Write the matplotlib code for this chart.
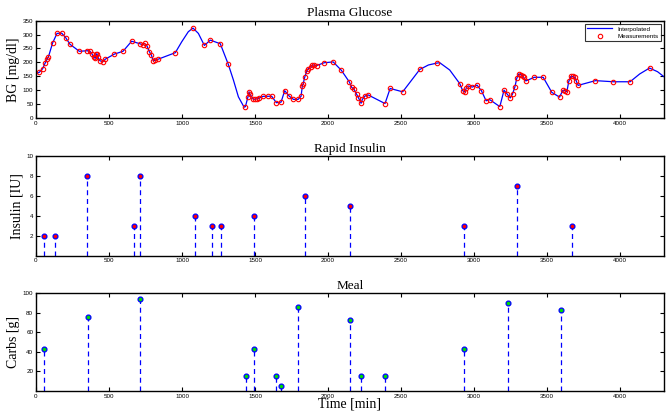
import numpy as np
import matplotlib
matplotlib.use("Agg")
import matplotlib.pyplot as plt

# glucose measurements [min], [mg/dl]
meas_t = [23, 46, 62, 75, 84, 114, 144, 176, 203, 233, 297, 352, 370, 384, 397, 406,
          413, 418, 422, 438, 459, 475, 537, 596, 655, 712, 731, 744, 760, 776, 790,
          804, 817, 833, 954, 1075, 1153, 1194, 1262, 1317, 1434, 1452, 1459, 1466,
          1489, 1502, 1516, 1530, 1557, 1587, 1614, 1646, 1678, 1703, 1735, 1763, 1795,
          1815, 1824, 1829, 1840, 1854, 1865, 1881, 1893, 1904, 1922, 1973, 2035, 2091,
          2146, 2162, 2178, 2196, 2208, 2226, 2235, 2253, 2274, 2390, 2425, 2511, 2628,
          2747, 2902, 2922, 2938, 2947, 2959, 2988, 3020, 3050, 3082, 3107, 3176, 3205,
          3228, 3247, 3263, 3279, 3292, 3306, 3320, 3333, 3340, 3354, 3413, 3473, 3532,
          3585, 3607, 3621, 3635, 3648, 3662, 3676, 3689, 3699, 3712, 3831, 3954, 4068,
          4201]
meas_bg = [165, 178, 197, 211, 218, 270, 304, 305, 289, 265, 240, 242, 240, 230, 218, 215,
           230, 231, 221, 206, 203, 212, 230, 240, 276, 267, 263, 268, 259, 239, 227,
           205, 209, 211, 235, 323, 261, 280, 267, 193, 42, 78, 95, 86,
           68, 69, 70, 73, 79, 79, 79, 56, 58, 99, 79, 68, 68,
           79, 116, 122, 147, 169, 178, 185, 190, 191, 189, 199, 202, 172,
           130, 111, 104, 86, 74, 54, 68, 80, 84, 53, 107, 95, 175,
           198, 124, 99, 94, 110, 116, 112, 119, 99, 63, 67, 42, 101,
           86, 73, 87, 112, 143, 159, 156, 152, 147, 134, 147, 147, 93,
           76, 100, 99, 95, 132, 150, 150, 147, 134, 118, 135, 131, 131,
           180]

# extra points
curve_extra_t = [0, 998, 1043, 1112, 1352, 1386, 1425, 2687, 2765, 2833, 4134, 4256, 4300]
curve_extra_bg = [160, 274, 310, 304, 137, 77, 40, 191, 199, 173, 159, 167, 149]

# rapid insulin boluses [min], [IU]
ins_t = [53, 130, 349, 669, 715, 1091, 1205, 1265, 1495, 1840, 2151, 2934, 3292, 3668]
ins_u = [2, 2, 8, 3, 8, 4, 3, 3, 4, 6, 5, 3, 7, 3]

# meals [min], [g]
meal_t = [53, 354, 715, 1436, 1495, 1646, 1678, 1797, 2151, 2226, 2393, 2934, 3233, 3594]
meal_g = [42.5, 76, 94, 15, 42.5, 15, 5, 86, 73, 15, 15, 42.5, 90, 83]

curve_t = np.concatenate([meas_t, curve_extra_t])
curve_bg = np.concatenate([meas_bg, curve_extra_bg])
order = np.argsort(curve_t)
curve_t, curve_bg = curve_t[order], curve_bg[order]

serif = ["Liberation Serif", "DejaVu Serif"]
plt.rcParams["font.family"] = ["Liberation Sans", "DejaVu Sans"]

fig = plt.figure(figsize=(6.7, 4.11), dpi=100)
ax1 = fig.add_axes([0.0537, 0.712, 0.9373, 0.238])
ax2 = fig.add_axes([0.0537, 0.378, 0.9373, 0.242])
ax3 = fig.add_axes([0.0537, 0.049, 0.9373, 0.237])


def style(ax, title, ylabel):
    ax.set_xlim(0, 4300)
    ax.set_xticks(np.arange(0, 4001, 500))
    ax.tick_params(direction="in", top=True, right=True, labelsize=4.5, length=3, width=0.8, pad=2)
    for s in ax.spines.values():
        s.set_linewidth(1.0)
    ax.set_title(title, family=serif, fontsize=9.5, pad=3)
    ax.set_ylabel(ylabel, family=serif, fontsize=10, labelpad=2)


ax1.plot(curve_t, curve_bg, color="blue", lw=0.9, label="Interpolated")
ax1.plot(meas_t, meas_bg, "o", mfc="none", mec="red", ms=3.2, mew=0.8, label="Measurements")
style(ax1, "Plasma Glucose", "BG [mg/dl]")
ax1.set_ylim(0, 350)
ax1.set_yticks(np.arange(0, 351, 50))
leg = ax1.legend(loc="upper right", fontsize=4.5, frameon=True, fancybox=False,
                 borderpad=0.4, handlelength=4, labelspacing=0.3, borderaxespad=0.5)
leg.get_frame().set_edgecolor("black")
leg.get_frame().set_linewidth(0.8)

ax2.vlines(ins_t, 0, ins_u, colors="blue", linestyles=(0, (4, 3)), lw=0.9)
ax2.plot(ins_t, ins_u, "o", mfc="red", mec="blue", ms=3.5, mew=0.9)
style(ax2, "Rapid Insulin", "Insulin [IU]")
ax2.set_ylim(0, 10)
ax2.set_yticks([2, 4, 6, 8, 10])

ax3.vlines(meal_t, 0, meal_g, colors="blue", linestyles=(0, (4, 3)), lw=0.9)
ax3.plot(meal_t, meal_g, "o", mfc="#00dd00", mec="blue", ms=3.5, mew=0.9)
style(ax3, "Meal", "Carbs [g]")
ax3.set_ylim(0, 100)
ax3.set_yticks([20, 40, 60, 80, 100])

fig.text(0.522, 0.002, "Time [min]", family=serif, fontsize=10, ha="center", va="bottom")

fig.savefig("out.png", dpi=100)
